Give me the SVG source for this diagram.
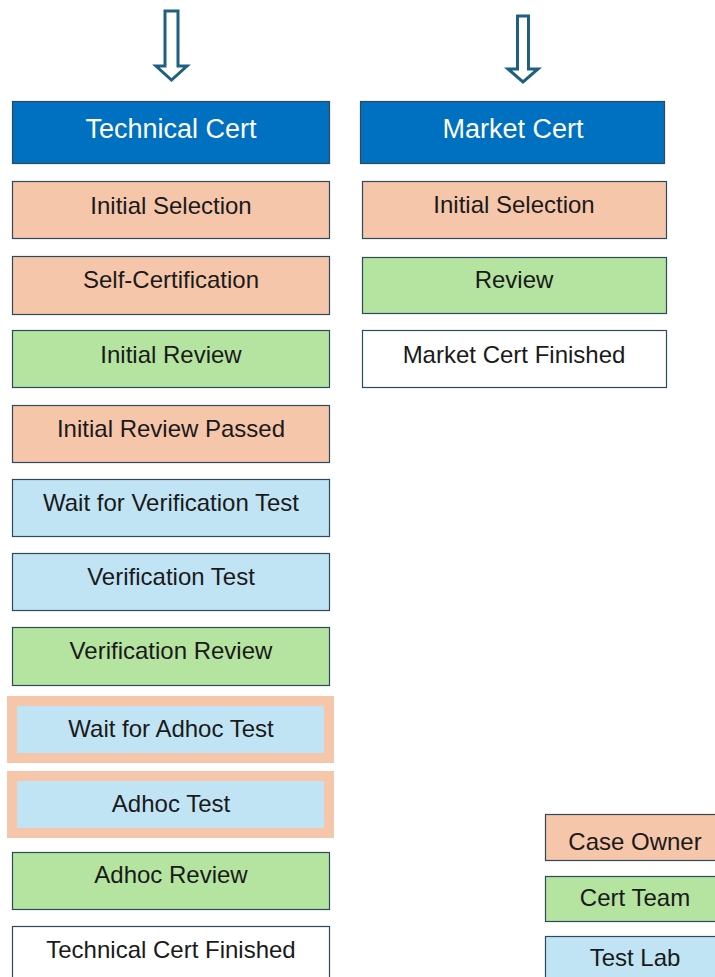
<svg xmlns="http://www.w3.org/2000/svg" width="715" height="977" viewBox="0 0 715 977">
<style>
.box{stroke:#2c4a5a;stroke-width:1.2}
.hdr{fill:#0070c0}
.own{fill:#f6c6aa}
.team{fill:#b4e4a0}
.lab{fill:#c1e4f5}
.fin{fill:#ffffff}
.rim{fill:#c1e4f5;stroke:#f6c6aa;stroke-width:10}
.arrow{fill:#ffffff;stroke:#1f6080;stroke-width:3;stroke-linejoin:miter}
text{font-family:"Liberation Sans",Arial,sans-serif;font-size:24px;fill:#1a1a1a;text-anchor:middle}
text.h{font-size:27px;fill:#ffffff}
</style>
<rect width="715" height="977" fill="#ffffff"/>
<g id="connectors">
<path class="arrow" d="M165,11 L178,11 L178,66 L187,66 L171.5,80 L156,66 L165,66 Z"/>
<path class="arrow" d="M517.5,16 L528.5,16 L528.5,69 L538,69 L523,82 L508,69 L517.5,69 Z"/>
</g>
<g id="technical-cert"><rect class="box hdr" x="12.5" y="101.5" width="317" height="62"/><text class="h" x="171" y="138">Technical Cert</text></g>
<g id="tc-initial-selection"><rect class="box own" x="12.5" y="181.5" width="317" height="57"/><text x="171" y="214">Initial Selection</text></g>
<g id="tc-self-certification"><rect class="box own" x="12.5" y="256.5" width="317" height="58"/><text x="171" y="288">Self-Certification</text></g>
<g id="tc-initial-review"><rect class="box team" x="12.5" y="330.5" width="317" height="57"/><text x="171" y="363">Initial Review</text></g>
<g id="tc-initial-review-passed"><rect class="box own" x="12.5" y="405.5" width="317" height="57"/><text x="171" y="437">Initial Review Passed</text></g>
<g id="tc-wait-verification"><rect class="box lab" x="12.5" y="479.5" width="317" height="57"/><text x="171" y="511">Wait for Verification Test</text></g>
<g id="tc-verification-test"><rect class="box lab" x="12.5" y="553.5" width="317" height="57"/><text x="171" y="585">Verification Test</text></g>
<g id="tc-verification-review"><rect class="box team" x="12.5" y="627.5" width="317" height="58"/><text x="171" y="659">Verification Review</text></g>
<g id="tc-wait-adhoc"><rect class="rim" x="12" y="701" width="317" height="57"/><text x="171" y="737">Wait for Adhoc Test</text></g>
<g id="tc-adhoc-test"><rect class="rim" x="12" y="776" width="317" height="57"/><text x="171" y="812">Adhoc Test</text></g>
<g id="tc-adhoc-review"><rect class="box team" x="12.5" y="852.5" width="317" height="57"/><text x="171" y="883">Adhoc Review</text></g>
<g id="tc-finished"><rect class="box fin" x="12.5" y="926.5" width="317" height="58"/><text x="171" y="958">Technical Cert Finished</text></g>
<g id="market-cert"><rect class="box hdr" x="360.5" y="101.5" width="304" height="62"/><text class="h" x="513" y="138">Market Cert</text></g>
<g id="mc-initial-selection"><rect class="box own" x="362.5" y="181.5" width="304" height="57"/><text x="514" y="213">Initial Selection</text></g>
<g id="mc-review"><rect class="box team" x="362.5" y="257.5" width="304" height="56"/><text x="514" y="288">Review</text></g>
<g id="mc-finished"><rect class="box fin" x="362.5" y="330.5" width="304" height="57"/><text x="514" y="363">Market Cert Finished</text></g>
<g id="legend-case-owner"><rect class="box own" x="545.5" y="814.5" width="180" height="46"/><text x="635" y="850">Case Owner</text></g>
<g id="legend-cert-team"><rect class="box team" x="545.5" y="876.5" width="180" height="45"/><text x="635" y="906">Cert Team</text></g>
<g id="legend-test-lab"><rect class="box lab" x="545.5" y="936.5" width="180" height="50"/><text x="635" y="966">Test Lab</text></g>
</svg>
